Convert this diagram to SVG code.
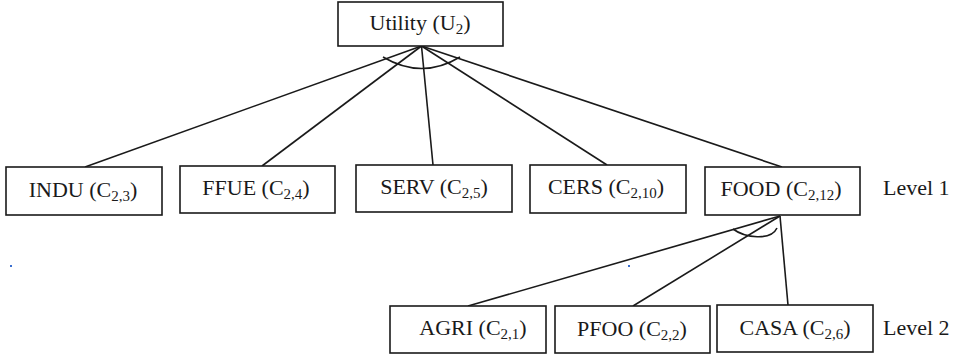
<svg xmlns="http://www.w3.org/2000/svg" width="956" height="358" viewBox="0 0 956 358">
  <style>
    .box { fill: #ffffff; stroke: #1a1a1a; stroke-width: 1.6; }
    .lbl { font-family: "Liberation Serif", "Times New Roman", serif; font-size: 22px; fill: #1a1a1a; text-anchor: middle; }
    .lvl { font-family: "Liberation Serif", "Times New Roman", serif; font-size: 22px; fill: #1a1a1a; }
    .sub { font-size: 15px; }
    .edge { stroke: #1a1a1a; stroke-width: 1.6; fill: none; }
  </style>
  <rect width="956" height="358" fill="#ffffff"/>

  <!-- connectors -->
  <g id="connectors">
    <line class="edge" x1="421.5" y1="46" x2="85" y2="167"/>
    <line class="edge" x1="421.5" y1="46" x2="262" y2="166"/>
    <line class="edge" x1="421.5" y1="46" x2="433" y2="165"/>
    <line class="edge" x1="421.5" y1="46" x2="607" y2="165"/>
    <line class="edge" x1="421.5" y1="46" x2="782" y2="167"/>
    <path class="edge" d="M383,57 Q422,80 460,57"/>
    <line class="edge" x1="780" y1="216" x2="468" y2="306"/>
    <line class="edge" x1="780" y1="216" x2="633" y2="306"/>
    <line class="edge" x1="780" y1="216" x2="788" y2="305"/>
    <path class="edge" d="M733,229 C745,238 771,241 777,228"/>
  </g>

  <g id="utility">
    <rect class="box" x="338" y="2" width="165" height="44"/>
    <text class="lbl" x="420" y="30">Utility (U<tspan class="sub" dy="4">2</tspan><tspan dy="-4">)</tspan></text>
  </g>

  <g id="indu">
    <rect class="box" x="6" y="167" width="156" height="48"/>
    <text class="lbl" x="83" y="197">INDU (C<tspan class="sub" dy="4">2,3</tspan><tspan dy="-4">)</tspan></text>
  </g>
  <g id="ffue">
    <rect class="box" x="180" y="166" width="155" height="47"/>
    <text class="lbl" x="256" y="195">FFUE (C<tspan class="sub" dy="4">2,4</tspan><tspan dy="-4">)</tspan></text>
  </g>
  <g id="serv">
    <rect class="box" x="356" y="165" width="156" height="47"/>
    <text class="lbl" x="434" y="194">SERV (C<tspan class="sub" dy="4">2,5</tspan><tspan dy="-4">)</tspan></text>
  </g>
  <g id="cers">
    <rect class="box" x="530" y="165" width="156" height="48"/>
    <text class="lbl" x="606" y="194">CERS (C<tspan class="sub" dy="4">2,10</tspan><tspan dy="-4">)</tspan></text>
  </g>
  <g id="food">
    <rect class="box" x="705" y="167" width="155" height="48"/>
    <text class="lbl" x="781" y="196">FOOD (C<tspan class="sub" dy="4">2,12</tspan><tspan dy="-4">)</tspan></text>
  </g>
  <text class="lvl" x="883" y="195">Level 1</text>

  <g id="agri">
    <rect class="box" x="390" y="306" width="156" height="47"/>
    <text class="lbl" x="473" y="335">AGRI (C<tspan class="sub" dy="4">2,1</tspan><tspan dy="-4">)</tspan></text>
  </g>
  <g id="pfoo">
    <rect class="box" x="555" y="306" width="155" height="47"/>
    <text class="lbl" x="632" y="336">PFOO (C<tspan class="sub" dy="4">2,2</tspan><tspan dy="-4">)</tspan></text>
  </g>
  <g id="casa">
    <rect class="box" x="717" y="305" width="156" height="47"/>
    <text class="lbl" x="795" y="335">CASA (C<tspan class="sub" dy="4">2,6</tspan><tspan dy="-4">)</tspan></text>
  </g>
  <text class="lvl" x="883" y="335">Level 2</text>

  <!-- stray marks -->
  <rect x="10" y="265" width="2" height="2" fill="#3a6fd0"/>
  <rect x="628" y="265" width="2" height="2" fill="#3a6fd0"/>
</svg>
